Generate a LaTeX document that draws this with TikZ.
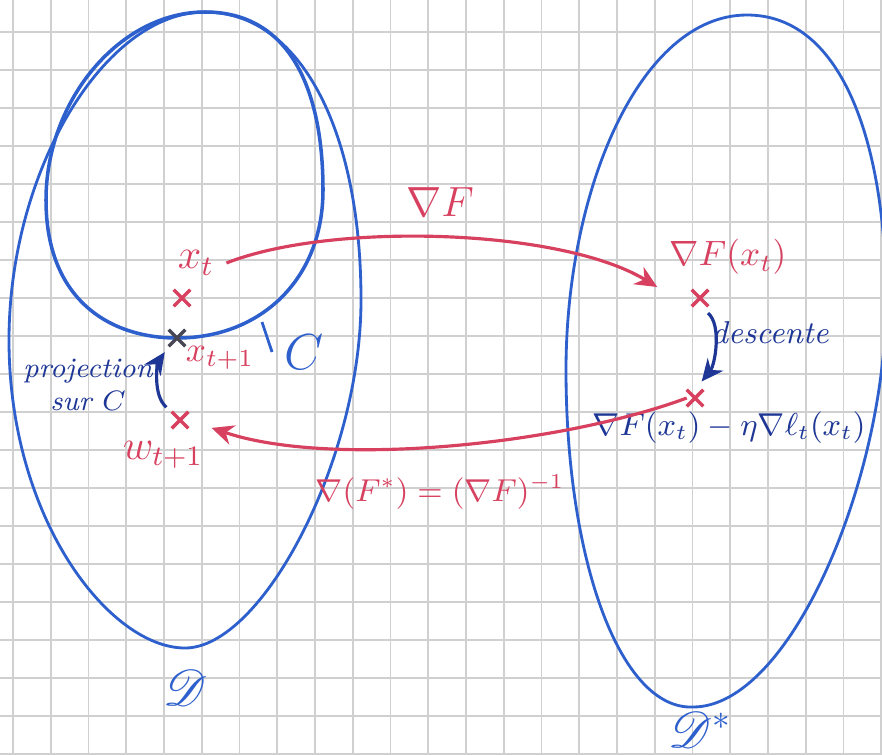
\documentclass[tikz,border=0pt]{standalone}
\usepackage{amsmath,amssymb,mathrsfs}
\usetikzlibrary{arrows.meta,positioning,shapes.misc}
\definecolor{penblue}{RGB}{45,95,205}
\definecolor{inkblue}{RGB}{30,55,150}
\definecolor{penred}{RGB}{215,65,95}
\definecolor{gridgray}{RGB}{208,208,208}
\definecolor{markgray}{RGB}{70,70,85}
\tikzset{
  gridline/.style={gridgray, line width=0.5pt},
  region/.style={penblue, line width=0.8pt},
  pointmark/.style={cross out, draw=penred, line width=1pt, minimum size=0.13cm, inner sep=0pt},
  redlabel/.style={penred, font=\large},
  bluelabel/.style={inkblue, align=center},
  maparrow/.style={-{Stealth[length=2.2mm,width=2mm]}, penred, line width=0.9pt},
  steparrow/.style={-{Stealth[length=2.2mm,width=2mm]}, inkblue, line width=0.9pt},
}
\begin{document}
\begin{tikzpicture}[x=0.01cm, y=-0.01cm]
\useasboundingbox (0,0) rectangle (882,754);
\fill[white] (0,0) rectangle (882,754);
% graph paper
\foreach \i in {0,...,23} \draw[gridline] ({13+37.75*\i},0) -- ({13+37.75*\i},754);
\foreach \j in {0,...,19} \draw[gridline] (0,{32+38*\j}) -- (882,{32+38*\j});

% the two domains and the set C
\draw[region] (205,12) .. controls (105,12) and (9,170) .. (9,340)
  .. controls (9,520) and (110,648) .. (185,648)
  .. controls (262,648) and (361,460) .. (361,300)
  .. controls (361,130) and (300,12) .. cycle;
\draw[region, line width=1pt] (205,12) .. controls (120,12) and (46,100) .. (46,200)
  .. controls (46,300) and (110,338) .. (177,338)
  .. controls (260,338) and (323,280) .. (323,190)
  .. controls (323,90) and (290,12) .. cycle;
\draw[region] (747,15) .. controls (845,15) and (886,150) .. (886,300)
  .. controls (886,480) and (790,707) .. (693,707)
  .. controls (620,710) and (566,560) .. (566,370)
  .. controls (566,190) and (640,15) .. cycle;

\node[penblue, font=\Large] (Clab) at (304,352) {$C$};
\coordinate (Ctick) at (262,322);
\draw[region] (Ctick) -- (Clab.west);

% points
\node[redlabel] (xt) at (196,263) {$x_t$};
\node[pointmark] (xtmark) at (182,298) {};
\node[pointmark, draw=markgray] (xnext) at (177,338) {};
\node[penred] (xnextlab) at (220,358) {$x_{t+1}$};
\node[pointmark] (wmark) at (180,420) {};
\node[redlabel] (wlab) at (163,455) {$w_{t+1}$};
\node[penred] (gradxt) at (728,257) {$\nabla F(x_t)$};
\node[pointmark] (gradmark) at (700,298) {};
\node[pointmark] (descmark) at (695,398) {};
\node[bluelabel, font=\small, anchor=east] (desclab) at (878,428) {$\nabla F(x_t)-\eta\nabla\ell_t(x_t)$};

% labels of the maps
\node[redlabel] (gradF) at (440,202) {$\nabla F$};
\node[redlabel, font=\small] (gradinv) at (440,492) {$\nabla(F^*)=(\nabla F)^{-1}$};
\node[bluelabel, font=\small\itshape] (desc) at (770,333) {descente};
\node[bluelabel, font=\footnotesize\itshape] (proj) at (88,385) {projection\\sur $C$};
\node[penblue, font=\Large] (D) at (185,688) {$\mathscr{D}$};
\node[penblue, font=\Large] (Dstar) at (700,730) {$\mathscr{D}^*$};

\draw[maparrow] (xt.east) .. controls (330,222) and (560,228) .. (gradxt.south west);
\draw[maparrow, shorten >=7pt] (descmark.west) .. controls (560,445) and (330,468) .. (wmark.east);
\draw[steparrow, shorten <=3pt, shorten >=3pt] (gradmark.south) .. controls (722,325) and (715,365) .. (descmark.north);
\draw[steparrow, shorten <=2pt, shorten >=2pt] (wmark.north west) .. controls (152,395) and (158,362) .. (xnext.south west);
\end{tikzpicture}
\end{document}
